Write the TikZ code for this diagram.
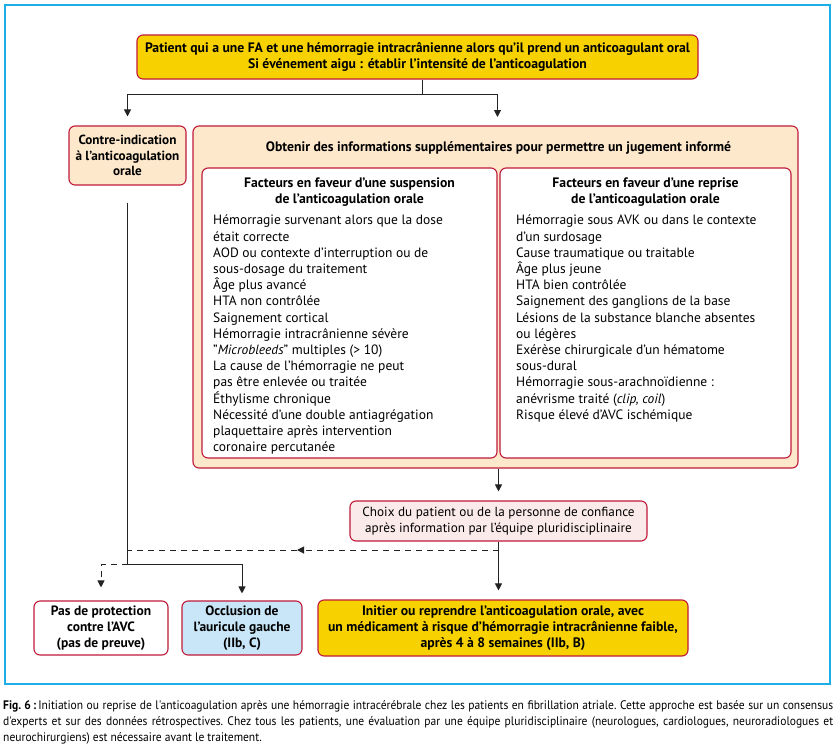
\documentclass[tikz,border=0pt]{standalone}
\usepackage{fontspec}
\setmainfont{PT Sans}
\newfontfamily\capfont[FakeStretch=0.93]{PT Sans}
\usetikzlibrary{arrows.meta}
\definecolor{bord}{RGB}{192,25,58}
\definecolor{yel}{RGB}{247,210,0}
\definecolor{peach}{RGB}{253,232,204}
\definecolor{pinkf}{RGB}{251,234,234}
\definecolor{bluef}{RGB}{200,230,248}
\definecolor{cyanc}{RGB}{30,174,230}
\definecolor{linec}{RGB}{35,35,35}
\begin{document}
\begin{tikzpicture}[x=1pt,y=-1pt,
  box/.style={draw=bord, line width=1.1pt, rounded corners=6pt, inner sep=0pt, align=center},
  conn/.style={draw=linec, line width=1pt},
  arr/.style={conn, -{Triangle[length=7pt,width=7pt]}},
  dsh/.style={conn, dash pattern=on 6pt off 5pt},
  bt/.style={font=\bfseries\fontsize{13.7}{16}\selectfont},
  rt/.style={font=\fontsize{13.5}{16.2}\selectfont},
]
\useasboundingbox (0,0) rectangle (836,745);
\fill[white] (0,0) rectangle (836,745);
\node[draw=cyanc, line width=1.6pt, minimum width=825pt, minimum height=679pt, inner sep=0pt] (frame) at (417.5,344.5) {};

\node[box, fill=yel, font=\bfseries\fontsize{13.7}{16.5}\selectfont, minimum width=561pt, minimum height=44pt] (top) at (417.5,57) {Patient qui a une FA et une hémorragie intracrânienne alors qu'il prend un anticoagulant oral\\Si événement aigu : établir l'intensité de l'anticoagulation};

\node[box, fill=peach, font=\bfseries\fontsize{13.2}{15.5}\selectfont, minimum width=117pt, minimum height=59pt] (contre) at (127.5,155.5) {Contre-indication\\à l'anticoagulation\\orale};

\node[box, fill=peach, minimum width=605pt, minimum height=342pt] (big) at (495.5,297) {};
\node[bt, inner sep=0pt] (title) at (498.5,148) {Obtenir des informations supplémentaires pour permettre un jugement informé};

\node[box, fill=white, minimum width=295pt, minimum height=290pt] (inl) at (349.5,313) {};
\node[box, fill=white, minimum width=291pt, minimum height=290pt] (inr) at (645.5,313) {};

\node[bt, inner sep=0pt, align=center] (hl) at (349.5,192) {Facteurs en faveur d'une suspension\\de l'anticoagulation orale};
\node[bt, inner sep=0pt, align=center] (hr) at (645.5,192) {Facteurs en faveur d'une reprise\\de l'anticoagulation orale};

\node[rt, inner sep=0pt, align=left, anchor=north west] (ll) at (213,215) {Hémorragie survenant alors que la dose\\était correcte\\AOD ou contexte d'interruption ou de\\sous-dosage du traitement\\Âge plus avancé\\HTA non contrôlée\\Saignement cortical\\Hémorragie intracrânienne sévère\\"\textit{Microbleeds}" multiples (> 10)\\La cause de l'hémorragie ne peut\\pas être enlevée ou traitée\\Éthylisme chronique\\Nécessité d'une double antiagrégation\\plaquettaire après intervention\\coronaire percutanée};

\node[rt, inner sep=0pt, align=left, anchor=north west] (lr) at (516,215) {Hémorragie sous AVK ou dans le contexte\\d'un surdosage\\Cause traumatique ou traitable\\Âge plus jeune\\HTA bien contrôlée\\Saignement des ganglions de la base\\Lésions de la substance blanche absentes\\ou légères\\Exérèse chirurgicale d'un hématome\\sous-dural\\Hémorragie sous-arachnoïdienne :\\anévrisme traité (\textit{clip, coil})\\Risque élevé d'AVC ischémique};

\node[box, fill=pinkf, minimum width=297pt, minimum height=40pt, font=\fontsize{13.2}{16}\selectfont] (choice) at (498.5,521) {Choix du patient ou de la personne de confiance\\après information par l'équipe pluridisciplinaire};

\node[box, fill=white, font=\bfseries\fontsize{13.5}{16}\selectfont, minimum width=134pt, minimum height=54pt] (pas) at (101,628) {Pas de protection\\contre l'AVC\\(pas de preuve)};
\node[box, fill=bluef, font=\bfseries\fontsize{13.5}{16}\selectfont, minimum width=120pt, minimum height=54pt] (occl) at (242,628) {Occlusion de\\l'auricule gauche\\(IIb, C)};
\node[box, fill=yel, bt, minimum width=370pt, minimum height=56pt] (init) at (503,628) {Initier ou reprendre l'anticoagulation orale, avec\\un médicament à risque d'hémorragie intracrânienne faible,\\après 4 à 8 semaines (IIb, B)};

% connectors
\coordinate (j0) at (422,94);
\draw[conn] (top.south -| j0) -- (j0);
\draw[arr, shorten >=9pt] (j0) -| (contre.north);
\draw[arr, shorten >=9pt] (j0) -| (497.5,126);
\draw[conn, shorten <=17pt] (contre.south) -- (127.5,564) coordinate (j1);
\draw[arr, shorten >=9pt] (big.south -| choice.north) -- (choice.north);
\draw[arr, shorten >=9pt] (choice.south) -- (choice.south |- init.north);
\coordinate (d0) at (498.5,550);
\coordinate (dm) at (297,550);
\coordinate (d1) at (127.5,550);
\draw[dsh, -{Triangle[length=7pt,width=7pt]}] (d0) -- (dm);
\draw[dsh] (dm) -- (d1);
\draw[arr, shorten >=7pt] (j1) -| (occl.north);
\draw[dsh, -{Triangle[length=7pt,width=7pt]}, shorten >=13pt] (j1) -| (pas.north);

\node[anchor=north west, text width=830pt, align=justify, inner sep=0pt, font=\capfont\fontsize{12.4}{16}\selectfont\frenchspacing] (cap) at (3,700) {\textbf{Fig.~6\,:}\,Initiation ou reprise de l'anticoagulation après une hémorragie intracérébrale chez les patients en fibrillation atriale. Cette approche est basée sur un consensus\linebreak d'experts et sur des données rétrospectives. Chez tous les patients, une évaluation par une équipe pluridisciplinaire (neurologues, cardiologues, neuroradiologues et\linebreak neurochirurgiens) est nécessaire avant le traitement.};
\end{tikzpicture}
\end{document}
